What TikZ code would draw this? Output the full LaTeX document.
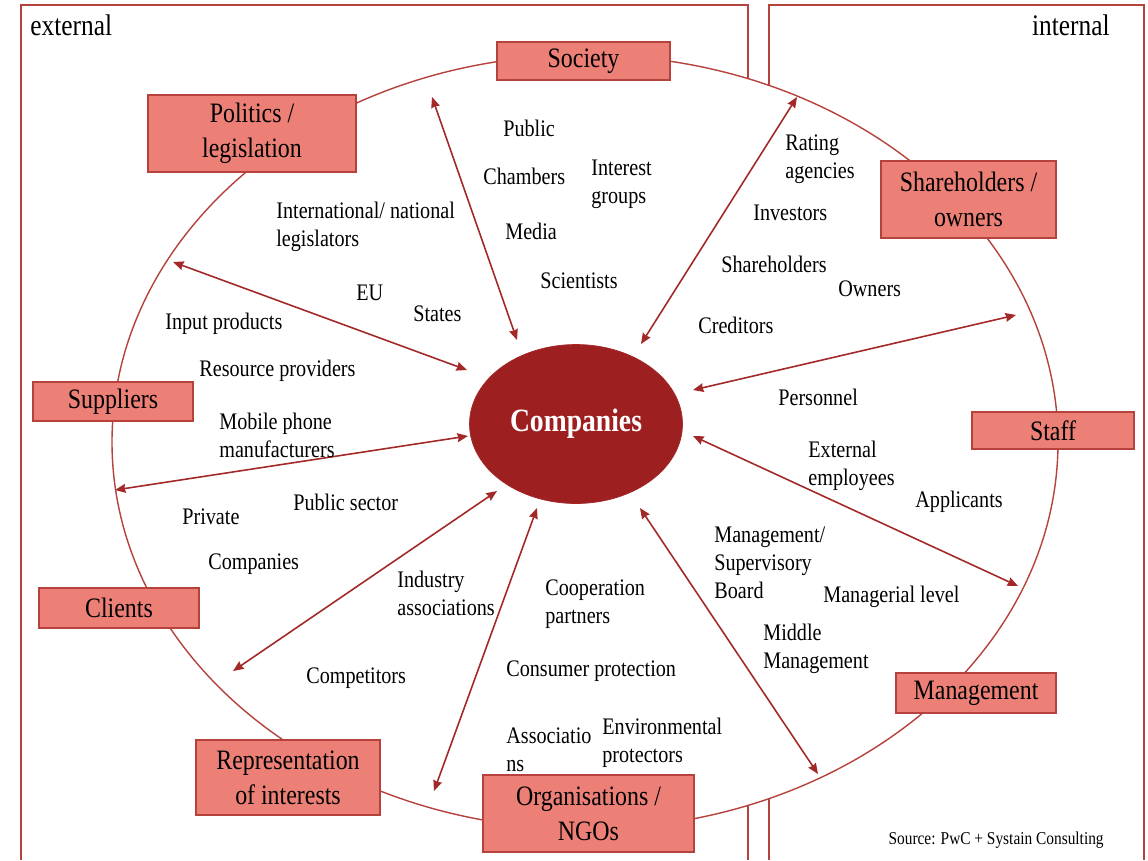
\documentclass[tikz,border=0pt]{standalone}
\usepackage{fontspec}
\setmainfont[FakeStretch=0.85]{Liberation Serif}
\usepackage{tikz}
\usetikzlibrary{shapes.geometric, arrows.meta}
\definecolor{boxfill}{HTML}{EC8077}
\definecolor{boxline}{HTML}{B5423D}
\definecolor{darkline}{HTML}{A32828}
\definecolor{corefill}{HTML}{9E1F20}

\begin{document}
\begin{tikzpicture}[x=0.02cm, y=-0.02cm,
    group/.style={draw=boxline, fill=boxfill, line width=0.8pt, align=center, inner sep=0pt, font=\fontsize{16}{20}\selectfont},
    item/.style={anchor=west, align=left, inner sep=0pt, font=\fontsize{13.5}{15.9}\selectfont},
    arrow/.style={draw=darkline, {Stealth[length=6pt,width=5pt,inset=0.5pt]}-{Stealth[length=6pt,width=5pt,inset=0.5pt]}, line width=0.9pt}]
    \useasboundingbox (0,0) rectangle (1148,860);

    % frames
    \draw[boxline, line width=0.8pt] (21,860) -- (21,5) -- (748,5) -- (748,860);
    \draw[boxline, line width=0.8pt] (769,860) -- (769,5) -- (1144,5) -- (1144,860);
    \node[anchor=west, inner sep=0pt, font=\fontsize{17}{20}\selectfont] (ext) at (30,25) {external};
    \node[anchor=east, inner sep=0pt, font=\fontsize{17}{20}\selectfont] (int) at (1110,25) {internal};

    % ring
    \draw[boxline, fill=white, line width=0.8pt] (585,442) ellipse [x radius=473, y radius=387];

    % groups
    \node[group, minimum width=3.46cm, minimum height=0.76cm] (soc) at (583.5,61) {Society};
    \node[group, minimum width=4.16cm, minimum height=1.54cm] (pol) at (252,133.5) {Politics /\\legislation};
    \node[group, minimum width=3.5cm, minimum height=1.54cm] (share) at (968.5,199.5) {Shareholders /\\owners};
    \node[group, minimum width=3.2cm, minimum height=0.78cm] (supp) at (113,401.5) {Suppliers};
    \node[group, minimum width=3.24cm, minimum height=0.74cm] (staff) at (1053,430.5) {Staff};
    \node[group, minimum width=3.2cm, minimum height=0.8cm] (cli) at (119,608) {Clients};
    \node[group, minimum width=3.68cm, minimum height=1.5cm] (rep) at (288,777.5) {Representation\\of interests};
    \node[group, minimum width=4.22cm, minimum height=1.54cm] (org) at (588.5,813.5) {Organisations /\\NGOs};
    \node[group, minimum width=3.2cm, minimum height=0.8cm] (mgmt) at (976,693) {Management};

    % centre
    \node[ellipse, fill=corefill, draw=darkline, minimum width=4.26cm, minimum height=3.18cm, text=white, font=\fontsize{18.5}{20}\selectfont\bfseries] (comp) at (576,424) {Companies};

    % arrow ends
    \coordinate (polOut) at (173,262);   \coordinate (polIn) at (467,370);
    \coordinate (socOut) at (432,97);    \coordinate (socIn) at (517,340);
    \coordinate (shareOut) at (797,97);  \coordinate (shareIn) at (641,344);
    \coordinate (staffOut) at (1016,315); \coordinate (staffIn) at (693,390);
    \coordinate (mgmtOut) at (1018,586); \coordinate (mgmtIn) at (693,436);
    \coordinate (midOut) at (818,774);   \coordinate (midIn) at (640,508);
    \coordinate (orgOut) at (434,791);   \coordinate (orgIn) at (537,508);
    \coordinate (repOut) at (233,671);   \coordinate (repIn) at (497,491);
    \coordinate (suppOut) at (115,490);  \coordinate (suppIn) at (468,436);

    % arrows
    \draw[arrow] (polOut) -- (polIn);
    \draw[arrow] (socOut) -- (socIn);
    \draw[arrow] (shareOut) -- (shareIn);
    \draw[arrow] (staffOut) -- (staffIn);
    \draw[arrow] (mgmtOut) -- (mgmtIn);
    \draw[arrow] (midOut) -- (midIn);
    \draw[arrow] (orgOut) -- (orgIn);
    \draw[arrow] (repOut) -- (repIn);
    \draw[arrow] (suppOut) -- (suppIn);

    % stakeholders
    \node[item] (public) at (503,128) {Public};
    \node[item] (chamb) at (483,176) {Chambers};
    \node[item] (intgr) at (591,184) {Interest\\groups};
    \node[item] (media) at (505,231) {Media};
    \node[item] (sci) at (540,281) {Scientists};
    \node[item] (legis) at (276,227) {International/ national\\legislators};
    \node[item] (eu) at (356,293) {EU};
    \node[item] (states) at (413,314) {States};
    \node[item] (input) at (165,324) {Input products};
    \node[item] (res) at (199,371) {Resource providers};
    \node[item] (mobile) at (219,435) {Mobile phone\\manufacturers};
    \node[item] (pubsec) at (293,502) {Public sector};
    \node[item] (priv) at (182,517) {Private};
    \node[item] (firms) at (208,564) {Companies};
    \node[item] (indas) at (397,593) {Industry\\associations};
    \node[item] (compet) at (306,678) {Competitors};
    \node[item] (coop) at (545,604) {Cooperation\\partners};
    \node[item] (consum) at (506,671) {Consumer protection};
    \node[item] (assoc) at (506,750) {Associatio\\ns};
    \node[item] (envir) at (602,743) {Environmental\\protectors};
    \node[item] (rating) at (785,159) {Rating\\agencies};
    \node[item] (invest) at (753,213) {Investors};
    \node[item] (sholders) at (721,264) {Shareholders};
    \node[item] (owners) at (838,289) {Owners};
    \node[item] (cred) at (698,325) {Creditors};
    \node[item] (pers) at (778,397) {Personnel};
    \node[item] (extemp) at (808,466) {External\\employees};
    \node[item] (appl) at (915,502) {Applicants};
    \node[item] (board) at (714,563) {Management/\\Supervisory\\Board};
    \node[item] (mlevel) at (823,597) {Managerial level};
    \node[item] (middle) at (763,649) {Middle\\Management};

    % source
    \node[anchor=east, inner sep=0pt, font=\fontsize{10.3}{12}\selectfont] (src) at (1104,840) {Source: PwC + Systain Consulting};
\end{tikzpicture}
\end{document}
